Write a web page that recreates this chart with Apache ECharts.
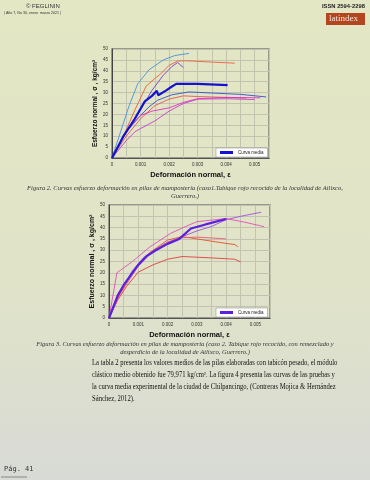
<!DOCTYPE html>
<html><head><meta charset="utf-8">
<script src="https://cdn.jsdelivr.net/npm/echarts@6/dist/echarts.min.js"></script>
<style>html,body{margin:0;padding:0;}#c{width:370px;height:480px;background:linear-gradient(#e4e7c4,#e0e3c8 60%,#d8dad6);}</style>
</head><body><div id="c"></div>
<script>
// ---- Figure 2 (case 1) curves: [strain, stress kg/cm2]
var f2LightBlue = [[0,0],[0.0003,12],[0.0006,24],[0.0009,34],[0.0013,40.5],[0.0018,45],[0.0022,47],[0.0027,48]];
var f2Orange = [[0,0],[0.0004,10],[0.0008,22],[0.0012,33],[0.0015,36.5],[0.0017,38.5],[0.002,42.5],[0.0023,44.5],[0.0026,44.6],[0.0035,44],[0.0043,43.5]];
var f2Purple = [[0,0],[0.0005,12],[0.001,22],[0.0014,31],[0.0018,38],[0.0021,42],[0.0023,43.8],[0.00235,43.7],[0.0025,41.5]];
var f2Media = [[0,0],[0.0004,10],[0.0008,18],[0.00115,26],[0.0014,28.5],[0.00157,30.8],[0.00162,28.8],[0.0019,31],[0.0021,32.8],[0.00225,34],[0.003,34],[0.00405,33.4]];
var f2Blue = [[0,0],[0.0005,12],[0.001,19.5],[0.0013,23.5],[0.0016,26.5],[0.0021,29],[0.0027,30.3],[0.0035,29.8],[0.0045,29.2],[0.0054,28]];
var f2Red = [[0,0],[0.0005,10],[0.001,18],[0.0015,24],[0.002,27],[0.0025,28.5],[0.003,28.2],[0.004,27.8],[0.0047,27.5]];
var f2Magenta = [[0,0],[0.0004,10],[0.0008,17],[0.001,19.5],[0.0014,21.5],[0.002,23],[0.0025,25.5],[0.003,27.2],[0.004,27.8],[0.0052,27.6]];
var f2Violet = [[0,0],[0.0005,8],[0.0008,12],[0.001,13.5],[0.0015,17],[0.002,21.5],[0.0025,25],[0.003,27],[0.004,27.2],[0.005,26.8]];
// ---- Figure 3 (case 2) curves
var f3Media = [[0,0],[0.0003,10],[0.0005,14.5],[0.0008,20],[0.001,23.5],[0.0013,27.5],[0.0016,30],[0.002,32.8],[0.0024,35],[0.0028,39.6],[0.0033,41.4],[0.004,43.8]];
var f3Purple = [[0,0],[0.0004,12],[0.0008,21],[0.0012,27],[0.0016,30.5],[0.002,33.5],[0.0025,36],[0.003,38.5],[0.0035,40.5],[0.004,43.5],[0.0045,45],[0.0052,46.8]];
var f3Pink = [[0,0],[0.00027,20],[0.0008,25],[0.0014,31.5],[0.0021,37.4],[0.0026,40.4],[0.003,42.6],[0.004,44],[0.0046,42.5],[0.0053,40.4]];
var f3RedLow = [[0,0],[0.0003,8],[0.0006,14],[0.001,20.3],[0.0015,23.5],[0.002,26],[0.0025,27.2],[0.003,26.9],[0.0035,26.6],[0.0043,26],[0.0045,24.8]];
var f3Orange = [[0,0],[0.0003,9],[0.0007,18],[0.001,24],[0.0014,29],[0.002,34.5],[0.0025,36],[0.003,35],[0.0035,34],[0.004,33],[0.0043,32.5],[0.0044,31.5]];
var f3RedPink = [[0,0],[0.0004,11],[0.0008,19],[0.001,23],[0.0015,29.5],[0.002,33.5],[0.0025,35.5],[0.003,35.8],[0.0035,35.4],[0.004,35]];
// ---- axes
var yTicks = ['0','5','10','15','20','25','30','35','40','45','50'];
var xTicks = ['0','0.001','0.002','0.003','0.004','0.005'];
var yName = 'Esfuerzo normal , σ , kg/cm²';
var xName = 'Deformación normal, ε';
var legendName = 'Curva media';

var chart = echarts.init(document.getElementById('c'), null, {renderer:'canvas'});
function xFmt(v){var k=Math.round(v*10000); if(k%10!==0) return ''; return xTicks[k/10]||'';}
function yFmt(v){return yTicks[Math.round(v/5)]||'';}
function mkX(idx){return {type:'value',gridIndex:idx,min:0,max:0.0055,interval:0.0005,
  axisLine:{lineStyle:{color:'#555',width:1}},axisTick:{show:false},
  splitLine:{lineStyle:{color:'#c2c4b0',width:1}},
  axisLabel:{formatter:xFmt,fontSize:4.5,color:'#333',margin:4,fontFamily:'Liberation Sans'},
  name:xName,nameLocation:'middle',nameGap:13,nameTextStyle:{fontSize:7.5,fontWeight:'bold',color:'#111',fontFamily:'Liberation Sans'}};}
function mkY(idx,fs){return {type:'value',gridIndex:idx,min:0,max:50,interval:5,
  axisLine:{show:true,lineStyle:{color:'#444',width:1}},axisTick:{show:false},
  splitLine:{lineStyle:{color:'#c2c4b0',width:1}},
  axisLabel:{formatter:yFmt,fontSize:4.5,color:'#333',margin:4,fontFamily:'Liberation Sans'},
  name:yName,nameLocation:'middle',nameGap:13,nameRotate:90,nameTextStyle:{fontSize:fs,fontWeight:'bold',color:'#111',fontFamily:'Liberation Sans'}};}
function ln(name,data,color,w,xi){return {type:'line',name:name,data:data,xAxisIndex:xi,yAxisIndex:xi,symbol:'none',smooth:false,
  lineStyle:{color:color,width:w},itemStyle:{color:color},z:w>1.5?5:2,animation:false};}

var T = function(x,y,text,style,sx){var o={type:'text',left:x,top:y,style:Object.assign({text:text,fill:'#222',font:'6px "Liberation Sans"'},style||{})}; if(sx){o.scaleX=sx;} return o;};
var cap = {font:'italic 6.5px "Liberation Serif"',fill:'#333',textAlign:'center'};
var par = {font:'7.6px "Liberation Serif"',fill:'#111'};
var parSX = 0.875;

chart.setOption({
  animation:false,
  grid:[{left:112,top:49,width:157,height:109,show:true,borderColor:'#808078',borderWidth:1.5,backgroundColor:'transparent'},
        {left:109,top:205,width:161,height:113,show:true,borderColor:'#808078',borderWidth:1.5,backgroundColor:'transparent'}],
  xAxis:[mkX(0),mkX(1)],
  yAxis:[mkY(0,6.5),mkY(1,7)],
  legend:[{data:[legendName],left:216,top:148,orient:'horizontal',itemWidth:13,itemHeight:3,itemGap:2,padding:[2,4,2,4],
           backgroundColor:'#ffffff',borderColor:'#999',borderWidth:0.6,textStyle:{fontSize:4.5,color:'#222'},icon:'rect'},
          {data:[legendName+' '],formatter:function(){return legendName;},left:216,top:308,itemWidth:13,itemHeight:3,itemGap:2,padding:[2,4,2,4],
           backgroundColor:'#ffffff',borderColor:'#999',borderWidth:0.6,textStyle:{fontSize:4.5,color:'#222'},icon:'rect'}],
  series:[
    ln('a1',f2LightBlue,'#4a8fe0',0.9,0),
    ln('a2',f2Orange,'#e8603c',0.9,0),
    ln('a3',f2Purple,'#7040d0',0.9,0),
    ln('a5',f2Blue,'#3050c8',0.9,0),
    ln('a6',f2Red,'#e05858',0.9,0),
    ln('a7',f2Magenta,'#e030c0',0.9,0),
    ln('a8',f2Violet,'#c040d0',0.9,0),
    ln(legendName,f2Media,'#1212d0',2.2,0),
    ln('b2',f3Purple,'#a050e0',0.9,1),
    ln('b3',f3Pink,'#e050b8',0.9,1),
    ln('b4',f3RedLow,'#e04040',0.9,1),
    ln('b5',f3Orange,'#e05030',0.9,1),
    ln('b6',f3RedPink,'#e85878',0.9,1),
    ln(legendName+' ',f3Media,'#5a1fe0',2.2,1)
  ],
  graphic:[
    T(26,3,'© FEGLININ',{font:'6px "Liberation Sans"',fill:'#333'}),
    T(4,11,'| Año 7, No 30, enero  marzo 2021 |',{font:'3.6px "Liberation Sans"',fill:'#333'}),
    T(322,3,'ISSN 2594-2298',{font:'bold 5.8px "Liberation Sans"',fill:'#222'}),
    {type:'rect',left:326,top:13,shape:{width:39,height:12},style:{fill:'#b3461f'}},
    T(329,14,'latindex',{font:'9px "Liberation Serif"',fill:'#f3e7df'}),
    {type:'text',left:'center',top:184,style:Object.assign({text:'Figura 2. Curvas esfuerzo deformación en pilas de mampostería (caso1.Tabique rojo recocido de la localidad de Atlixco,\nGuerrero.)',lineHeight:8},cap)},
    {type:'text',left:'center',top:340,style:Object.assign({text:'Figura 3. Curvas esfuerzo deformación en pilas de mampostería (caso 2. Tabique rojo recocido, con remezclado y\ndesperdicio de la localidad de Atlixco, Guerrero.)',lineHeight:8},cap)},
    T(92,359,'La tabla 2 presenta los valores medios de las pilas elaboradas con tabicón pesado, el módulo',par,parSX),
    T(92,371,'clástico medio obtenido fue 79,971 kg/cm². La figura 4 presenta las curvas de las pruebas y',par,parSX),
    T(92,383,'la curva media experimental de la ciudad de Chilpancingo, (Contreras Mojica & Hernández',par,parSX),
    T(92,395,'Sánchez, 2012).',par,parSX),
    T(4,466,'Pág. 41',{font:'7px "DejaVu Sans Mono"',fill:'#333'}),
    {type:'line',shape:{x1:1,y1:477,x2:27,y2:477},style:{stroke:'#888',lineWidth:1}}
  ]
});
</script></body></html>
